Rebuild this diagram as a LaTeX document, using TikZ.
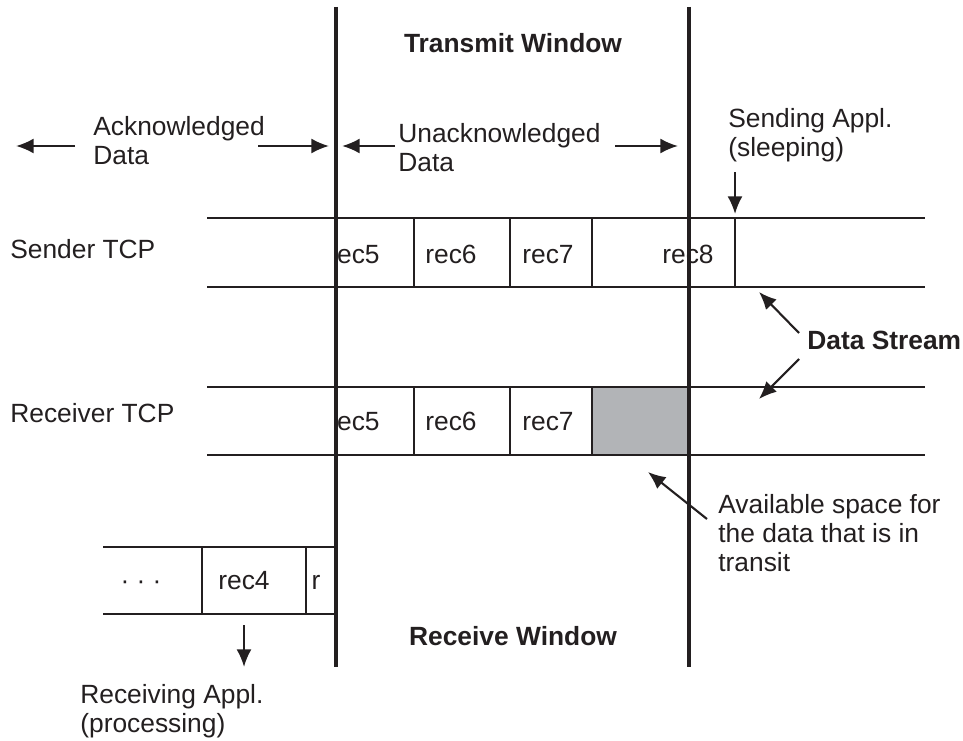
\documentclass[tikz,border=0pt]{standalone}
\usepackage{fontspec}
\setmainfont{Liberation Sans}
\usetikzlibrary{arrows.meta}
\definecolor{ink}{RGB}{35,31,32}
\definecolor{freespace}{RGB}{178,180,183}

\begin{document}
\begin{tikzpicture}[x=0.02cm, y=-0.02cm, >={Latex[length=10pt,width=8.5pt]},
   every node/.style={inner sep=0pt, text=ink, font=\fontsize{15}{16.5}\selectfont},
   note/.style={anchor=north west, align=left},
   heading/.style={anchor=base, font=\fontsize{15}{16.5}\selectfont\bfseries},
   rec/.style={anchor=base},
   window/.style={draw=ink, line width=1.8pt},
   buffer/.style={draw=ink, line width=1.1pt},
   pointer/.style={draw=ink, line width=1.2pt, ->}]
   \useasboundingbox (0,0) rectangle (963,740);

   % free space in the receive buffer
   \fill[freespace] (592,387) rectangle (689,455);

   % sender stream
   \draw[buffer] (207,218) -- (925,218) (207,287) -- (925,287);
   \draw[buffer] (414,218) -- (414,287) (510,218) -- (510,287)
                 (592,218) -- (592,287) (735,218) -- (735,287);
   % receiver stream
   \draw[buffer] (207,387) -- (925,387) (207,455) -- (925,455);
   \draw[buffer] (414,387) -- (414,455) (510,387) -- (510,455)
                 (592,387) -- (592,455);
   % receiving application buffer
   \draw[buffer] (103,547) -- (336,547) (103,614) -- (336,614);
   \draw[buffer] (202,547) -- (202,614) (306,547) -- (306,614);

   \node (sender) [anchor=base west] at (10,258) {Sender TCP};
   \node (receiver) [anchor=base west] at (10,422) {Receiver TCP};

   \begin{scope}
      \clip (338,200) rectangle (414,470);
      \node (s5) [rec] at (354,263) {rec5};
      \node (r5) [rec] at (354,430) {rec5};
   \end{scope}
   \node (s6) [rec] at (451,263) {rec6};
   \node (s7) [rec] at (548,263) {rec7};
   \node (s8) [rec] at (688,263) {rec8};
   \node (r6) [rec] at (451,430) {rec6};
   \node (r7) [rec] at (548,430) {rec7};
   \node (dots) [rec] at (141,589) {· · ·};
   \node (a4) [rec] at (244,589) {rec4};
   \node (a5) [rec] at (316,589) {r};

   \node (txwin) [heading] at (513,53) {Transmit Window};
   \node (rxwin) [heading] at (513,645) {Receive Window};
   \node (stream) [heading, anchor=base west] at (807,349) {Data Stream};

   \node (acked) [note] at (93,115.8) {Acknowledged\\Data};
   \node (unacked) [note] at (398,122.8) {Unacknowledged\\Data};
   \node (sendapp) [note] at (728,107.8) {Sending Appl.\\(sleeping)};
   \node (recvapp) [note] at (80,683.8) {Receiving Appl.\\(processing)};
   \node (space) [note] at (718,493.7) {Available space for\\the data that is in\\transit};

   % window borders
   \coordinate (txL) at (336,7);
   \coordinate (rxL) at (336,667);
   \coordinate (txR) at (689,7);
   \coordinate (rxR) at (689,667);
   \draw[window] (txL) -- (rxL);
   \draw[window] (txR) -- (rxR);

   % pointers
   \coordinate (ackA) at (75,146);   \coordinate (ackAtip) at (16,146);
   \coordinate (ackB) at (258,146);  \coordinate (ackBtip) at (329,146);
   \coordinate (unA) at (395,146);   \coordinate (unAtip) at (342,146);
   \coordinate (unB) at (615,146);   \coordinate (unBtip) at (678,146);
   \coordinate (sendA) at (735,172); \coordinate (sendAtip) at (735,214);
   \coordinate (strA) at (799,333);  \coordinate (strAtip) at (759,292);
   \coordinate (strB) at (799,359);  \coordinate (strBtip) at (759,399);
   \coordinate (spA) at (707,519);   \coordinate (spAtip) at (648,472);
   \coordinate (rcvA) at (244,625);  \coordinate (rcvAtip) at (244,667);

   \draw[pointer] (ackA) -- (ackAtip);
   \draw[pointer] (ackB) -- (ackBtip);
   \draw[pointer] (unA) -- (unAtip);
   \draw[pointer] (unB) -- (unBtip);
   \draw[pointer] (sendA) -- (sendAtip);
   \draw[pointer] (strA) -- (strAtip);
   \draw[pointer] (strB) -- (strBtip);
   \draw[pointer] (spA) -- (spAtip);
   \draw[pointer] (rcvA) -- (rcvAtip);
\end{tikzpicture}
\end{document}
